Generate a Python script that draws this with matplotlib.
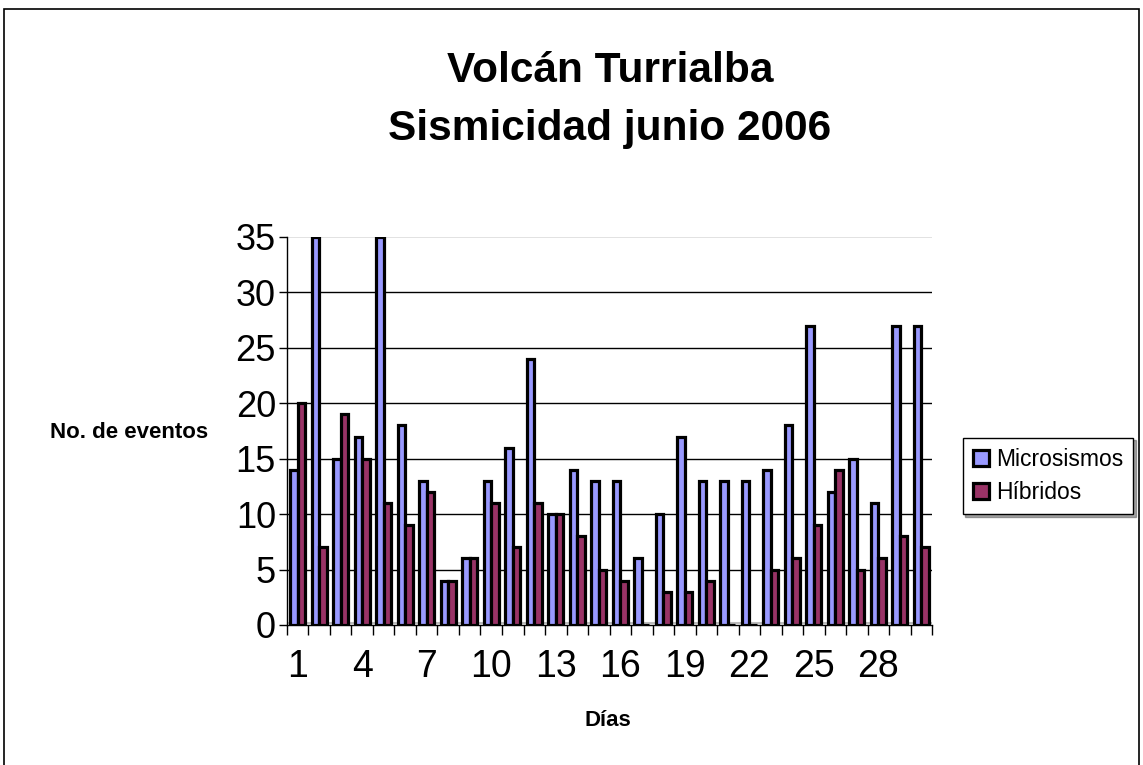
import numpy as np
import matplotlib.pyplot as plt
from matplotlib.patches import Rectangle

plt.rcParams['font.family'] = ['Liberation Sans', 'DejaVu Sans']

dias = list(range(1, 31))
microsismos = [14, 35, 15, 17, 35, 18, 13, 4, 6, 13,
               16, 24, 10, 14, 13, 13, 6, 10, 17, 13,
               13, 13, 14, 18, 27, 12, 15, 11, 27, 27]
hibridos = [20, 7, 19, 15, 11, 9, 12, 4, 6, 11,
            7, 11, 10, 8, 5, 4, 0, 3, 3, 4,
            0, 0, 5, 6, 9, 14, 5, 6, 8, 7]
tick_dias = [1, 4, 7, 10, 13, 16, 19, 22, 25, 28]

C_MICRO = "#9999FF"
C_HIBR = "#993366"


def main():
    fig = plt.figure(figsize=(11.43, 7.65), dpi=100)
    ax = fig.add_axes([287 / 1143, 1 - 625 / 765, 645 / 1143, 388 / 765])

    x = np.array(dias, dtype=float)
    w = 0.35
    ax.bar(x - w / 2, microsismos, width=w, color=C_MICRO,
           edgecolor="black", linewidth=2.3, label="Microsismos", zorder=3)
    ax.bar(x + w / 2, hibridos, width=w, color=C_HIBR,
           edgecolor="black", linewidth=2.3, label="Híbridos", zorder=3)

    ax.set_xlim(0.5, 30.5)
    ax.set_ylim(0, 35)
    ax.set_yticks(range(0, 36, 5))
    for yv in range(5, 35, 5):
        ax.axhline(yv, color="black", lw=1.0, zorder=1)
    ax.axhline(35, color="#dddddd", lw=1.2, zorder=1)
    ax.axhline(0.15, color="#bbbbbb", lw=1.5, zorder=2)

    ax.set_xticks(tick_dias)
    ax.set_xticklabels([str(d) for d in tick_dias])
    ax.set_xticks(np.arange(0.5, 31, 1), minor=True)
    ax.tick_params(axis="x", which="major", length=0, labelsize=27, pad=17)
    ax.tick_params(axis="x", which="minor", length=7, width=1, direction="out")
    ax.tick_params(axis="y", length=6, width=1, direction="out",
                   labelsize=26, pad=2)

    for s in ("top", "right"):
        ax.spines[s].set_visible(False)
    ax.spines["left"].set_linewidth(1.0)
    ax.spines["bottom"].set_linewidth(1.0)

    fig.text(610 / 1143, 1 - 82 / 765, "Volcán Turrialba", ha="center",
             va="baseline", fontsize=30.5, fontweight="bold")
    fig.text(610 / 1143, 1 - 140 / 765, "Sismicidad junio 2006", ha="center",
             va="baseline", fontsize=30.5, fontweight="bold")
    fig.text(129 / 1143, 1 - 433 / 765, "No. de eventos", ha="center",
             va="center", fontsize=16, fontweight="bold")
    fig.text(608 / 1143, 1 - 721 / 765, "Días", ha="center",
             va="center", fontsize=16, fontweight="bold")

    leg = fig.legend(loc="center", bbox_to_anchor=(1048 / 1143, 1 - 476 / 765),
                     fontsize=16.5, frameon=True, fancybox=False, shadow=True,
                     handlelength=0.7, handleheight=0.7, handletextpad=0.3,
                     borderpad=0.45, labelspacing=0.45)
    leg.get_frame().set_edgecolor("black")
    leg.get_frame().set_linewidth(1.0)

    fig.patches.append(Rectangle((4 / 1143, -0.01), 1135 / 1143, 1 - 9 / 765 + 0.01,
                                 transform=fig.transFigure, fill=False,
                                 edgecolor="black", linewidth=1.2))

    fig.savefig("out.png", dpi=100)


if __name__ == "__main__":
    main()
